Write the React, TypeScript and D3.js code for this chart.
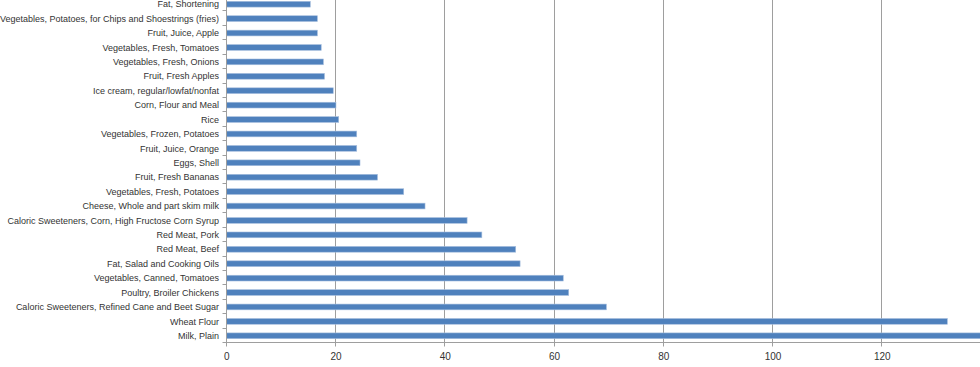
import React from "react";
import * as d3 from "d3";

const categories = [
  "Fat, Shortening",
  "Vegetables, Potatoes, for Chips and Shoestrings (fries)",
  "Fruit, Juice, Apple",
  "Vegetables, Fresh, Tomatoes",
  "Vegetables, Fresh, Onions",
  "Fruit, Fresh Apples",
  "Ice cream, regular/lowfat/nonfat",
  "Corn, Flour and Meal",
  "Rice",
  "Vegetables, Frozen, Potatoes",
  "Fruit, Juice, Orange",
  "Eggs, Shell",
  "Fruit, Fresh Bananas",
  "Vegetables, Fresh, Potatoes",
  "Cheese, Whole and part skim milk",
  "Caloric Sweeteners, Corn, High Fructose Corn Syrup",
  "Red Meat, Pork",
  "Red Meat, Beef",
  "Fat, Salad and Cooking Oils",
  "Vegetables, Canned, Tomatoes",
  "Poultry, Broiler Chickens",
  "Caloric Sweeteners, Refined Cane and Beet Sugar",
  "Wheat Flour",
  "Milk, Plain",
];

const values = [
  15.3, 16.6, 16.6, 17.3, 17.7, 17.9, 19.5, 20.0, 20.5, 23.8, 23.8, 24.4,
  27.6, 32.4, 36.3, 44.0, 46.7, 52.9, 53.7, 61.6, 62.6, 69.5, 131.9, 150.0,
];

const xTicks = [0, 20, 40, 60, 80, 100, 120];

const W = 980;
const H = 367;
const plotLeft = 226.7;
const plotTop = -3;
const plotBottom = 343;

export default function App() {
  const x = d3
    .scaleLinear()
    .domain([0, 140])
    .range([plotLeft, plotLeft + 140 * 5.4635]);
  const y = d3
    .scaleBand<string>()
    .domain(categories)
    .range([plotTop, plotBottom])
    .paddingInner(0.6)
    .paddingOuter(0.3);
  const band = (plotBottom - plotTop) / categories.length;
  const boundaries = d3.range(categories.length + 1).map((i) => plotTop + i * band);
  const axisY = Math.round(plotBottom) - 0.5;
  const axisX = Math.round(plotLeft) - 0.5;

  return (
    <svg
      width={W}
      height={H}
      style={{ position: "absolute", left: 0, top: 0, background: "#fff" }}
      fontFamily="'Liberation Sans', Arial, sans-serif"
    >
      {xTicks.slice(1).map((t) => (
        <line
          key={"g" + t}
          x1={Math.round(x(t)) - 0.5}
          x2={Math.round(x(t)) - 0.5}
          y1={0}
          y2={axisY + 4}
          stroke="#9E9E9E"
          strokeWidth={1}
        />
      ))}
      {categories.map((c, i) => (
        <rect
          key={c}
          x={x(0)}
          y={(y(c) as number)}
          width={x(values[i]) - x(0)}
          height={y.bandwidth()}
          fill="#4F81BD"
          stroke="#A7BFDE"
          strokeWidth={0.6}
        />
      ))}
      <line x1={axisX} x2={W} y1={axisY} y2={axisY} stroke="#9E9E9E" />
      <line x1={axisX} x2={axisX} y1={0} y2={axisY + 4} stroke="#9E9E9E" />
      {boundaries.map((b, i) => (
        <line
          key={"t" + i}
          x1={axisX - 4}
          x2={axisX}
          y1={Math.round(b) - 0.5}
          y2={Math.round(b) - 0.5}
          stroke="#9E9E9E"
        />
      ))}
      {categories.map((c) => (
        <text
          key={"l" + c}
          x={219}
          y={(y(c) as number) + y.bandwidth() / 2}
          dy="0.35em"
          textAnchor="end"
          fontSize={9}
          fill="#333"
        >
          {c}
        </text>
      ))}
      {xTicks.map((t) => (
        <text
          key={"x" + t}
          x={x(t)}
          y={356}
          dy="0.35em"
          textAnchor="middle"
          fontSize={10}
          fill="#333"
        >
          {t}
        </text>
      ))}
    </svg>
  );
}
